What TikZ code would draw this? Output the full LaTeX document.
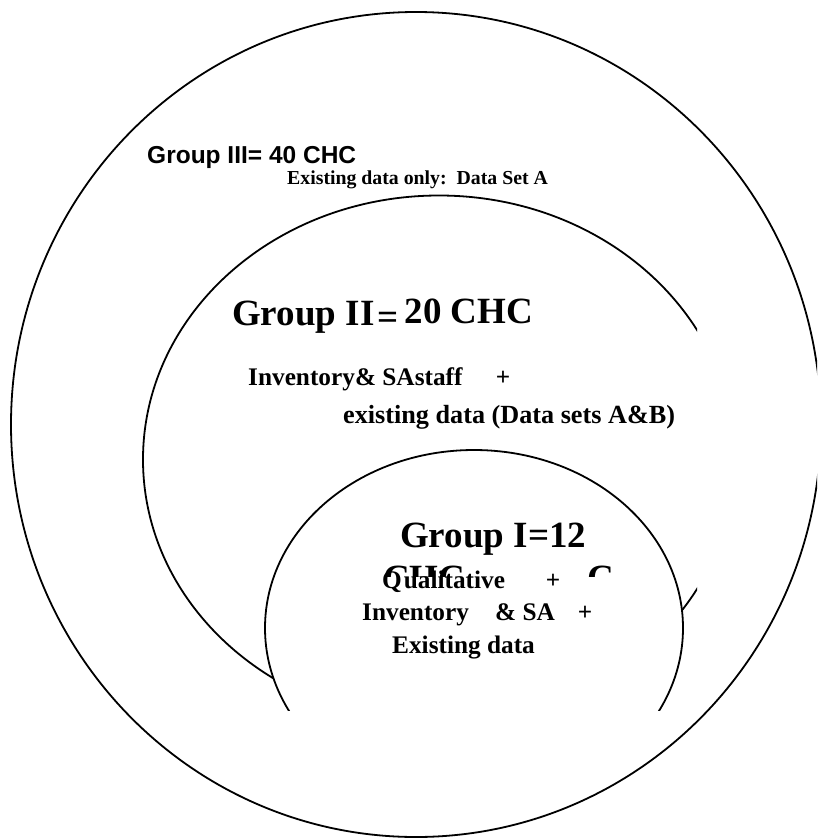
\documentclass[tikz,border=0pt]{standalone}
\usepackage{fontspec}
\setmainfont{Liberation Serif}
\newfontfamily\arialf{Liberation Sans}
\begin{document}
\begin{tikzpicture}[x=1pt,y=-1pt,
  ln/.style={line width=1.8pt},
  lbl/.style={inner sep=0pt, anchor=base west},
  plus/.style={inner sep=0pt, anchor=base},
  fsA/.style={font=\arialf\fontsize{24.5}{28}\selectfont\bfseries},
  fsS/.style={font=\fontsize{19.8}{23}\selectfont\bfseries},
  fsL/.style={font=\fontsize{37}{42}\selectfont\bfseries},
  fsM/.style={font=\fontsize{25.3}{29}\selectfont\bfseries},
  fsN/.style={font=\fontsize{26.2}{30}\selectfont\bfseries}]
\useasboundingbox (0,0) rectangle (817,838);
\begin{scope}
  \clip (0,0) rectangle (817,838);
  % outer (Group III)
  \draw[ln] (416,424.5) ellipse [x radius=405pt, y radius=412.5pt];
  % middle (Group II)
  \begin{scope}
    \clip (0,0) rectangle (697,838);
    \draw[ln] (439,459.5) ellipse [x radius=296pt, y radius=264pt];
  \end{scope}
  % inner (Group I)
  \fill[white] (474,628) ellipse [x radius=209pt, y radius=178pt];
  \begin{scope}
    \clip (0,0) rectangle (817,710);
    \draw[ln] (474,628) ellipse [x radius=209pt, y radius=178pt];
  \end{scope}
\end{scope}
% Group III texts
\node[lbl, fsA] (g3) at (147,163) {Group III= 40 CHC};
\node[lbl, fsS] (g3d) at (287,184) {Existing data only:\ \ Data Set A};
% Group II texts
\node[lbl, fsL] (g2) at (232,325) {Group II\kern3pt\raisebox{-4pt}{=}\kern6pt\raisebox{1.5pt}{20 CHC}};
\node[lbl, fsM] (g2a) at (248,385) {Inventory\& SAstaff};
\node[plus, fsM] (g2p) at (503,385) {+};
\node[lbl, fsN] (g2b) at (343,423) {existing data (Data sets A\&B)};
% Group I texts
\node[lbl, fsL] (g1) at (400,547) {Group I=12};
\begin{scope}
  \clip (0,0) rectangle (817,576);
  \node[lbl, fsL] (g1c) at (383,590) {CHC};
  \node[lbl, fsL] (g1d) at (587,590) {C};
\end{scope}
\node[lbl, fsM] (g1a) at (382,588) {Q\kern2pt ualitative};
\node[plus, fsM] (g1ap) at (553,588) {+};
\node[lbl, fsM] (g1b) at (362,620) {Inventory};
\node[lbl, fsM] (g1b2) at (495,620) {\& SA};
\node[plus, fsM] (g1bp) at (585,620) {+};
\node[lbl, fsM] (g1e) at (392,653) {Existing data};
\end{tikzpicture}
\end{document}
